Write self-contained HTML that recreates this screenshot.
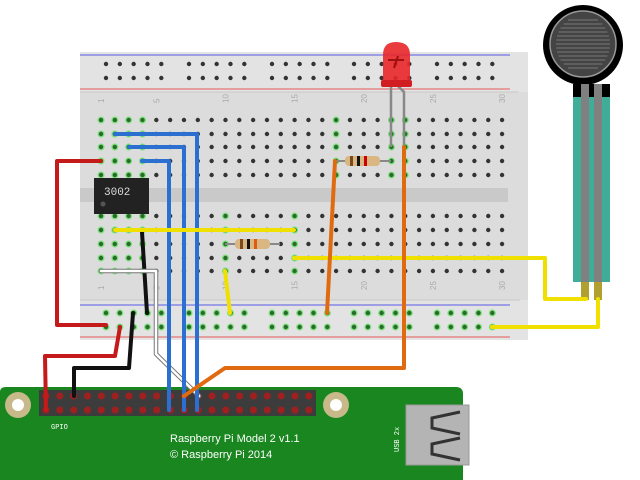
<!DOCTYPE html>
<html><head><meta charset="utf-8"><style>
html,body{margin:0;padding:0;background:#fff;width:640px;height:480px;overflow:hidden}
svg{display:block}
</style></head><body>
<svg id="s" width="640" height="480" viewBox="0 0 640 480" xmlns="http://www.w3.org/2000/svg" font-family="Liberation Sans, sans-serif">
<rect x="80" y="52" width="448" height="288" fill="#dcdcdc"/>
<rect x="80" y="52" width="448" height="40" fill="#e3e3e3"/>
<rect x="80" y="300" width="448" height="40" fill="#e3e3e3"/>
<line x1="80" y1="55" x2="510" y2="55" stroke="#5a5ae6" stroke-width="1"/>
<line x1="80" y1="89" x2="510" y2="89" stroke="#e65a5a" stroke-width="1"/>
<line x1="80" y1="305" x2="510" y2="305" stroke="#5a5ae6" stroke-width="1"/>
<line x1="80" y1="337" x2="510" y2="337" stroke="#e65a5a" stroke-width="1"/>
<line x1="80" y1="92" x2="518" y2="92" stroke="#c8c8c8"/>
<line x1="80" y1="300" x2="520" y2="300" stroke="#c8c8c8"/>
<rect x="80" y="188" width="428" height="14" fill="#c9c9c9"/>
<g id="holes"></g>
<g font-size="8" fill="#aaa" id="nums"></g>
<path d="M0 392 Q0 387 6 387 L456 387 Q463 387 463 394 L463 480 L0 480 Z" fill="#19861f"/>
<circle cx="18" cy="405" r="13" fill="#c8b98a"/><circle cx="18" cy="405" r="6" fill="#fff"/>
<circle cx="336" cy="405" r="13" fill="#c8b98a"/><circle cx="336" cy="405" r="6" fill="#fff"/>
<rect x="39" y="390" width="277" height="26" fill="#3c3c3c"/>
<g id="pins"></g>
<text x="51" y="429" font-size="7" fill="#fff" font-family="Liberation Mono, monospace">GPIO</text>
<text x="170" y="442" font-size="11" fill="#fff">Raspberry Pi Model 2 v1.1</text>
<text x="170" y="458" font-size="11" fill="#fff">© Raspberry Pi 2014</text>
<rect x="406" y="405" width="63" height="60" fill="#b4b4b4" stroke="#999"/>
<path d="M460 412 L432 418 L432 428 L460 434" fill="none" stroke="#333" stroke-width="3"/>
<path d="M460 438 L432 444 L432 454 L460 460" fill="none" stroke="#333" stroke-width="3"/>
<text transform="translate(399,452) rotate(-90)" font-size="7" fill="#fff" font-family="Liberation Mono, monospace">USB 2x</text>
<rect x="94" y="178" width="55" height="36" fill="#222"/>
<circle cx="103" cy="204" r="2.5" fill="#555"/>
<text x="104" y="195" font-size="11" fill="#ddd" font-family="Liberation Mono, monospace">3002</text>
<line x1="335" y1="161" x2="391" y2="161" stroke="#888" stroke-width="2"/>
<rect x="345" y="156" width="35" height="10" rx="4" fill="#d9b682"/>
<rect x="350" y="156" width="3" height="10" fill="#7a4a1a"/><rect x="357" y="156" width="3" height="10" fill="#111"/><rect x="364" y="156" width="3" height="10" fill="#c00"/>
<line x1="225" y1="244" x2="280" y2="244" stroke="#888" stroke-width="2"/>
<rect x="235" y="239" width="35" height="10" rx="4" fill="#d9b682"/>
<rect x="240" y="239" width="3" height="10" fill="#7a4a1a"/><rect x="247" y="239" width="3" height="10" fill="#111"/><rect x="254" y="239" width="3" height="10" fill="#e05a10"/>
<path d="M391 86 L391 147" stroke="#888" stroke-width="2.5" fill="none"/>
<path d="M398 86 L404 92 L404 147" stroke="#888" stroke-width="2.5" fill="none"/>
<path d="M383 84 L383 55 Q383 42 396 42 Q410 42 410 55 L410 84 Z" fill="#e8262a" opacity="0.9"/>
<rect x="381" y="80" width="31" height="7" rx="2" fill="#d01e22"/>
<path d="M388 60 L404 60 M398 56 L394 68" stroke="#a01010" stroke-width="2"/>
<circle cx="583" cy="45" r="40" fill="#000"/>
<circle cx="583" cy="44" r="33" fill="#444" stroke="#999" stroke-width="1.5"/>
<g stroke="#888" stroke-width="0.8" id="fsr"></g>
<rect x="573" y="84" width="37" height="14" fill="#000"/>
<rect x="573" y="97" width="37" height="185" fill="#40ad99"/>
<rect x="581" y="84" width="8" height="216" fill="#808080"/>
<rect x="594" y="84" width="8" height="216" fill="#808080"/>
<rect x="581" y="282" width="8" height="18" fill="#b0a030"/>
<rect x="594" y="282" width="8" height="18" fill="#b0a030"/>
<g fill="none" stroke-linecap="round" stroke-linejoin="round" stroke-width="4">
<path d="M101 161 L57 161 L57 325 L106 325" stroke="#c41a1a"/>
<path d="M120 327 L115 356 L45 356 L46 410" stroke="#c41a1a"/>
<path d="M133 313 L129 368 L74 368 L74 396" stroke="#111"/>
<path d="M142 232 L147 313" stroke="#111"/>
<path d="M101 271 L156 271 L156 354 L199 396" stroke="#777" stroke-width="4.5"/>
<path d="M101 271 L156 271 L156 354 L199 396" stroke="#fff" stroke-width="2.5"/>
<path d="M115 134 L197 134 L197 410" stroke="#2b6fd0"/>
<path d="M129 147 L184 147 L184 410" stroke="#2b6fd0"/>
<path d="M142 161 L169 161 L169 410" stroke="#2b6fd0"/>
<path d="M115 230 L294 230" stroke="#f0e000"/>
<path d="M294 258 L545 258 L545 299 L586 299" stroke="#f0e000"/>
<path d="M492 327 L598 327 L598 299" stroke="#f0e000"/>
<path d="M225 271 L230 313" stroke="#f0e000"/>
<path d="M335 161 L327 313" stroke="#e06a10"/>
<path d="M404 147 L404 368 L225 368 L184 396" stroke="#e06a10"/>
</g>
</svg>
<script>
var NS="http://www.w3.org/2000/svg",H=document.getElementById('holes');
function c(x,y,r,f,p){var e=document.createElementNS(NS,'circle');e.setAttribute('cx',x);e.setAttribute('cy',y);e.setAttribute('r',r);e.setAttribute('fill',f);(p||H).appendChild(e);}
function hole(x,y,g){if(g)c(x,y,3.5,'#7be07b');c(x,y,2.2,g?'#2a6a2a':'#333');}
var starts=[106,189,272,354,437];
[64,78].forEach(function(y){starts.forEach(function(s){for(var i=0;i<5;i++)hole(s+i*13.83,y,false);});});
[313,327].forEach(function(y){starts.forEach(function(s){for(var i=0;i<5;i++)hole(s+i*13.83,y,true);});});
var rows=[120,134,147,161,175,216,230,244,258,271];
var gTop=[1,2,3,4,18,22,23],gBot=[1,2,3,4,10,15];
for(var col=0;col<30;col++)rows.forEach(function(y,ri){var n=col+1;var g=ri<5?gTop.indexOf(n)>=0:gBot.indexOf(n)>=0;hole(101+col*13.83,y,g);});
var N=document.getElementById('nums');
[1,5,10,15,20,25,30].forEach(function(n){[103,290].forEach(function(y){var t=document.createElementNS(NS,'text');var x=101+(n-1)*13.83+3;t.setAttribute('transform','translate('+x+','+y+') rotate(-90)');t.textContent=n;N.appendChild(t);});});
var P=document.getElementById('pins');
for(var i=0;i<20;i++){[396,410].forEach(function(y){c(46+i*13.83,y,3.5,'#a02020',P);});}
var F=document.getElementById('fsr');
for(var y=20;y<72;y+=4){var dx=Math.sqrt(Math.max(0,30*30-(y-44)*(y-44)))-3;var l=document.createElementNS(NS,'line');l.setAttribute('x1',583-dx);l.setAttribute('x2',583+dx);l.setAttribute('y1',y);l.setAttribute('y2',y);F.appendChild(l);}
</script>
</body></html>
